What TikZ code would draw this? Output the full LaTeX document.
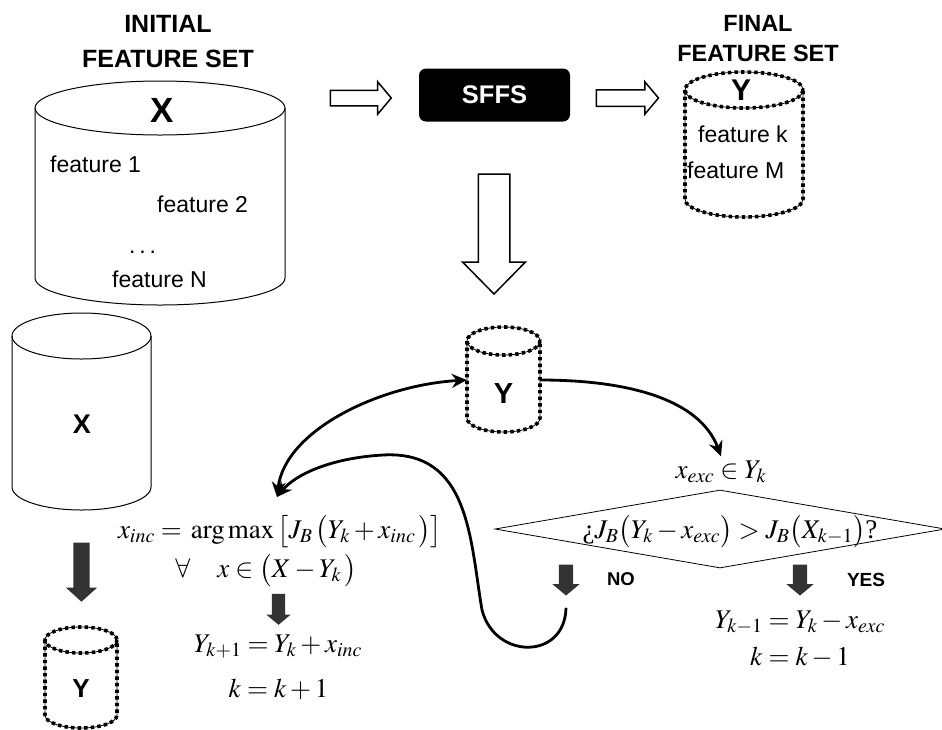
\documentclass[tikz,border=0pt]{standalone}
\usepackage{mathptmx}
\usepackage[no-math]{fontspec}
\setmainfont{Liberation Sans}
\newfontfamily\serif{Liberation Serif}
\usetikzlibrary{shapes.geometric}
\usetikzlibrary{shapes.arrows}
\usetikzlibrary{arrows.meta}

\definecolor{darkarrow}{HTML}{333333}

% drum: style, centre x, x radius, top y, bottom y, y radius
\newcommand{\drum}[6]{%
  \draw[#1] (#2-#3,#4) -- (#2-#3,#5)
    arc[start angle=180, end angle=0, x radius=#3, y radius=#6] -- (#2+#3,#4);
  \draw[#1] (#2,#4) ellipse[x radius=#3, y radius=#6];
}

\tikzset{
  title/.style={font=\bfseries\fontsize{25}{35}\selectfont, align=center, inner sep=0pt},
  letter/.style={font=\bfseries\fontsize{#1}{#1}\selectfont, inner sep=0pt, anchor=base},
  feat/.style={font=\fontsize{23}{26}\selectfont, inner sep=0pt, anchor=base west},
  eq/.style={font=\fontsize{27}{32}\selectfont, inner sep=0pt, anchor=base},
  solidcyl/.style={line width=1pt},
  dotcyl/.style={line width=0.8pt, preaction={draw, line width=3.6pt, dash pattern=on 3.4pt off 3.2pt}},
  hollow/.style={single arrow, draw, line width=1.5pt, fill=white, inner xsep=0pt, single arrow head indent=0pt},
  dark/.style={single arrow, fill=darkarrow, inner xsep=0pt, single arrow head indent=0pt},
  link/.style={line width=2.8pt},
  >={Stealth[length=15pt, width=14pt]}
}

\begin{document}
\begin{tikzpicture}[x=1pt, y=-1pt]
  \useasboundingbox (0,0) rectangle (942,729);

  % top row
  \node[title] (initT) at (168,41.5) {INITIAL\\FEATURE SET};
  \drum{solidcyl}{160}{125}{108}{278}{27}
  \node[letter=35] (bigX) at (162,122) {X};
  \node[feat] (f1) at (50,172) {feature 1};
  \node[feat] (f2) at (157,212) {feature 2};
  \node[feat] (fdots) at (129,253) {.\,.\,.};
  \node[feat] (fN) at (112,287) {feature N};

  \node[hollow, minimum height=61pt, inner ysep=7pt, single arrow head extend=8.5pt,
        single arrow tip angle=100] (a1) at (357.5,98) {};
  \node[fill=black, rounded corners=7pt, minimum width=151pt, minimum height=53pt,
        inner sep=0pt, text=white, font=\bfseries\fontsize{25.5}{25.5}\selectfont] (sffs) at (494.5,95) {SFFS};
  \node[hollow, minimum height=62pt, inner ysep=7.5pt, single arrow head extend=8pt,
        single arrow tip angle=100] (a2) at (624,98) {};

  \node[title, font=\bfseries\fontsize{23.5}{30}\selectfont] (finT) at (758,38.5) {FINAL\\FEATURE SET};
  \drum{dotcyl}{744}{59}{90}{199}{18}
  \node[letter=30] (finY) at (741,100) {Y};
  \node[feat] (fk) at (698,142) {feature k};
  \node[feat] (fM) at (687,178) {feature M};

  \node[hollow, rotate=-90, minimum height=120pt, inner ysep=15pt, single arrow head extend=15.5pt,
        single arrow tip angle=89] (a3) at (494,226) {};

  % left column
  \drum{solidcyl}{81.5}{69.5}{336}{487}{23}
  \node[letter=27] (leftX) at (82,433) {X};
  \node[dark, rotate=-90, minimum height=59pt, inner ysep=8pt, single arrow head extend=7.5pt,
        single arrow tip angle=96] (d1) at (81.5,568.5) {};
  \drum{dotcyl}{81}{36}{640}{715}{13}
  \node[letter=26] (leftY) at (81,697) {Y};

  % loop
  \drum{dotcyl}{503.5}{36.5}{341}{418}{14}
  \node[font=\bfseries\fontsize{29}{29}\selectfont, inner sep=0pt, minimum width=73pt,
        text height=46pt, text depth=0pt] (ymid) at (503.5,380) {Y};

  \node[eq] (xinc) at (280,538) {$x_{inc} =\, \arg\max\smash{\bigl[}J_B\,\smash{\bigl(}Y_k + x_{inc}\,\smash{\bigr)\bigr]}$};
  \node[eq] (forall) at (266,577) {$\forall\quad x \in \smash{\bigl(}X - Y_k\,\smash{\bigr)}$};
  \node[dark, rotate=-90, minimum height=31pt, inner ysep=6.5pt, single arrow head extend=5.5pt,
        single arrow tip angle=100] (d2) at (278.5,606.5) {};
  \node[eq] (addY) at (278,652) {$Y_{k+1} = Y_k + x_{inc}$};
  \node[eq] (addk) at (278.5,697) {$k = k + 1$};

  \node[eq] (xexc) at (721,478) {$x_{exc} \in Y_k$};
  \node[diamond, draw, line width=0.8pt, inner sep=0pt, aspect=5.77,
        minimum width=450pt, minimum height=78pt] (test) at (720,529) {};
  \node[eq] (cond) at (730,538) {{\serif ¿}$J_B\smash{\bigl(}Y_k - x_{exc}\smash{\bigr)} > J_B\smash{\bigl(}X_{k-1}\smash{\bigr)}${\serif ?}};

  \node[dark, rotate=-90, minimum height=31pt, inner ysep=7pt, single arrow head extend=6.5pt,
        single arrow tip angle=100] (noarr) at (566,577) {};
  \node[letter=18.5] (no) at (621,585) {NO};
  \node[dark, rotate=-90, minimum height=31pt, inner ysep=7pt, single arrow head extend=6.5pt,
        single arrow tip angle=100] (yesarr) at (800,577) {};
  \node[letter=19] (yes) at (866,586) {YES};
  \node[eq] (subY) at (800,628) {$Y_{k-1} = Y_k - x_{exc}$};
  \node[eq] (subk) at (800,665) {$k = k - 1$};

  \coordinate (merge) at (277,497);
  \draw[link, <->] (merge) .. controls (285,430) and (380,385) .. (ymid.west);
  \draw[link, ->] (ymid.east) .. controls (630,380) and (700,400) .. ([yshift=4pt]xexc.north);
  \draw[link, ->] ([yshift=-12pt]noarr.tip) .. controls (565,660) and (495,660) .. (482,610)
    .. controls (470,540) and (470,450) .. (383,455)
    .. controls (330,458) and (295,475) .. (merge);
\end{tikzpicture}
\end{document}
